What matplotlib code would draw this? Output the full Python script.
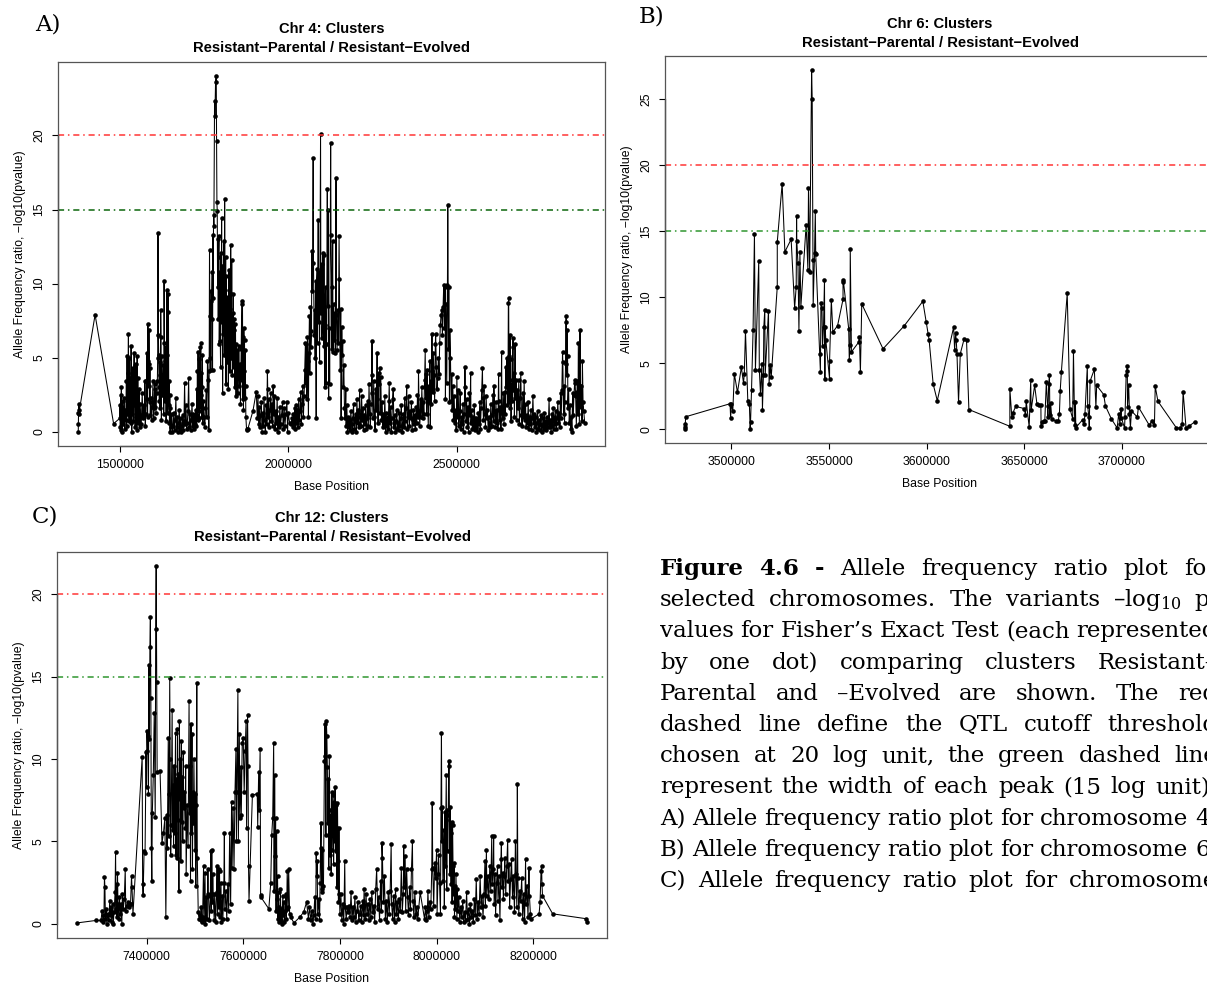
import matplotlib
matplotlib.use('Agg')
import matplotlib.pyplot as plt
import numpy as np

W, H = 1207, 984

# (position in kb, -log10 p)
chr4_points = [
    (1376, 0.0), (1376.3, 0.5), (1376.6, 1.3), (1376.9, 1.5), (1377.2, 1.9), (1377.5, 1.2), (1426, 7.9), (1481, 0.55),
    (1499, 0.9), (1500, 1.8), (1501, 0.3), (1502, 2.5), (1503, 0.1), (1504, 3.0), (1505, 0.6), (1506, 1.4), (1507, 0.0),
    (1508, 2.1), (1510, 0.5), (1511, 1.1), (1513, 2.3), (1514, 0.2), (1516, 1.5), (1517, 0.8), (1519, 3.4), (1520, 0.4),
    (1521, 5.1), (1522, 1.2), (1524, 4.0), (1525, 6.6), (1526, 2.0), (1527, 0.7), (1528, 5.0), (1530, 1.6), (1531, 3.6),
    (1532, 0.6), (1533, 5.8), (1534, 2.4), (1535, 0.0), (1536, 3.1), (1537, 1.2), (1538, 4.3), (1540, 0.7), (1541, 2.2),
    (1542, 5.3), (1543, 1.8), (1544, 4.5), (1545, 0.3), (1546, 3.3), (1547, 4.6), (1548, 1.0), (1549, 2.7), (1550, 0.1),
    (1551, 5.1), (1552, 2.0), (1553, 3.6), (1554, 0.6), (1555, 1.5), (1557, 2.9), (1558, 0.3), (1560, 1.9), (1562, 0.5),
    (1564, 1.1), (1566, 2.6), (1568, 0.9), (1570, 1.8), (1572, 1.1), (1574, 3.4), (1575, 0.4), (1577, 1.2), (1579, 3.5),
    (1580, 5.3), (1581, 2.2), (1582, 1.0), (1583, 7.3), (1584, 4.8), (1585, 3.1), (1586, 6.9), (1587, 4.6), (1588, 2.0),
    (1589, 4.3), (1590, 1.1), (1592, 2.3), (1594, 0.8), (1596, 1.7), (1598, 3.4), (1599, 2.0), (1600, 0.9), (1602, 1.6),
    (1603, 3.2), (1604, 1.7), (1605, 2.9), (1607, 1.3), (1609, 2.6), (1611, 3.4), (1612, 5.0), (1613, 13.4), (1614, 6.5),
    (1615, 5.2), (1616, 3.0), (1617, 2.1), (1618, 4.7), (1619, 1.6), (1620, 3.8), (1621, 8.2), (1622, 6.4), (1623, 0.8),
    (1624, 5.1), (1625, 2.5), (1627, 3.1), (1629, 4.5), (1630, 1.2), (1631, 10.2), (1632, 6.0), (1633, 2.1), (1635, 4.8),
    (1636, 5.7), (1637, 0.7), (1638, 3.4), (1639, 9.6), (1640, 2.2), (1641, 5.2), (1642, 1.3), (1643, 9.3), (1644, 8.1),
    (1645, 1.8), (1646, 3.4), (1647, 0.6), (1648, 2.5), (1649, 0.0), (1650, 1.6), (1652, 0.3), (1654, 1.2), (1656, 0.0),
    (1658, 0.4), (1660, 1.3), (1662, 0.1), (1664, 0.8), (1666, 2.3), (1668, 0.3), (1670, 1.0), (1672, 0.0), (1674, 0.6),
    (1676, 1.5), (1678, 0.2), (1680, 0.9), (1682, 0.0), (1684, 0.4), (1686, 1.1), (1688, 0.1), (1690, 0.7), (1692, 3.3),
    (1694, 0.5), (1696, 1.8), (1698, 0.2), (1700, 0.6), (1702, 1.4), (1704, 3.6), (1706, 0.3), (1708, 1.2), (1710, 0.1),
    (1712, 0.8), (1714, 1.9), (1716, 0.4), (1718, 1.2), (1720, 0.2), (1722, 1.0), (1724, 0.5),
    (1726, 1.5), (1727, 0.4), (1728, 2.9), (1729, 1.1), (1730, 4.1), (1731, 0.8), (1732, 5.4), (1733, 2.3), (1734, 1.4),
    (1735, 4.9), (1736, 0.9), (1737, 3.4), (1738, 5.7), (1739, 1.7), (1740, 6.0), (1741, 2.5), (1742, 4.0), (1743, 1.0),
    (1744, 3.0), (1745, 5.2), (1746, 0.6), (1748, 2.1), (1750, 1.0), (1752, 0.3), (1754, 1.6), (1756, 2.8), (1758, 1.0),
    (1760, 4.8), (1762, 3.5), (1764, 0.1), (1765, 4.1), (1766, 12.3), (1767, 7.8), (1768, 5.0), (1769, 8.8), (1770, 4.2),
    (1771, 9.5), (1772, 7.6), (1774, 10.8), (1775, 4.2), (1776, 13.3), (1777, 9.0), (1778, 14.6), (1779, 13.9),
    (1781, 22.3), (1782, 21.3), (1784, 23.6), (1786, 24.0), (1787, 19.6), (1788, 15.5), (1789, 14.9),
    (1790, 9.8), (1791, 13.0), (1792, 7.6), (1793, 11.8), (1794, 13.2), (1795, 5.9), (1796, 8.5), (1797, 10.8), (1798, 6.1),
    (1799, 4.4), (1800, 12.1), (1801, 8.0), (1802, 14.4), (1803, 7.4), (1804, 11.2), (1805, 2.6), (1806, 9.0), (1807, 6.6),
    (1808, 8.9), (1809, 12.9), (1810, 5.2), (1811, 15.7), (1812, 9.6), (1813, 7.0), (1814, 11.8), (1815, 3.2), (1816, 10.5),
    (1817, 6.5), (1818, 8.2), (1819, 4.7), (1820, 7.4), (1821, 9.1), (1822, 2.9), (1823, 6.0), (1824, 10.9), (1825, 5.5),
    (1826, 8.3), (1827, 4.1), (1828, 9.4), (1829, 12.6), (1830, 7.2), (1831, 5.0), (1832, 11.6), (1833, 6.4), (1834, 3.8),
    (1835, 8.0), (1836, 5.6), (1837, 9.3), (1838, 4.4), (1839, 6.9), (1840, 7.6), (1841, 3.0), (1842, 5.4), (1843, 7.3),
    (1844, 4.8), (1845, 2.4), (1846, 5.9), (1848, 3.6), (1849, 5.5), (1850, 2.6), (1852, 4.3), (1853, 5.8), (1855, 3.1),
    (1856, 4.6), (1858, 1.9), (1860, 5.6), (1862, 8.8), (1863, 3.5), (1864, 8.6), (1865, 2.2), (1866, 6.4), (1867, 1.5),
    (1868, 7.0), (1869, 4.1), (1870, 6.2), (1871, 2.3), (1872, 5.5), (1873, 3.1), (1874, 1.0), (1876, 0.2), (1878, 0.1),
    (1880, 0.2), (1895, 1.4), (1905, 2.7), (1908, 0.9), (1910, 2.4), (1912, 0.5), (1914, 1.7), (1916, 0.3), (1918, 1.1),
    (1920, 2.0), (1922, 0.0), (1924, 1.3), (1926, 0.4), (1928, 2.3), (1930, 0.8), (1932, 0.0), (1934, 1.8), (1936, 0.5),
    (1938, 4.1), (1939, 2.9), (1940, 1.0), (1942, 2.2), (1944, 0.3), (1946, 1.5), (1948, 2.6), (1950, 0.7), (1952, 1.9),
    (1954, 0.4), (1955, 3.1), (1957, 1.2), (1959, 2.4), (1961, 0.2), (1963, 1.4), (1965, 0.6), (1967, 2.3), (1969, 0.0),
    (1971, 1.0), (1973, 0.3), (1975, 1.7), (1977, 0.5), (1980, 1.1), (1983, 2.0), (1985, 0.2), (1988, 1.6), (1990, 0.4),
    (1993, 1.2), (1996, 2.0), (1998, 0.0), (2000, 1.3), (2004, 0.6), (2008, 0.5), (2011, 0.9), (2013, 0.3), (2015, 1.2),
    (2017, 0.5), (2019, 1.6), (2021, 0.2), (2023, 1.8), (2025, 0.6), (2027, 1.5), (2029, 0.3), (2031, 2.2), (2033, 0.8),
    (2035, 1.4), (2037, 2.7), (2039, 0.5), (2041, 1.9), (2043, 3.1), (2045, 1.0), (2047, 2.4),
    (2049, 4.2), (2051, 6.0), (2052, 3.3), (2054, 5.9), (2055, 2.2), (2057, 6.4), (2058, 4.8), (2060, 1.0), (2061, 5.3),
    (2063, 7.8), (2064, 4.0), (2066, 8.4), (2067, 5.7), (2069, 6.8), (2070, 12.2), (2072, 9.5), (2074, 18.5), (2075, 11.4),
    (2077, 6.5), (2078, 8.2), (2080, 5.0), (2081, 10.2), (2083, 0.9), (2084, 9.9), (2086, 11.0), (2087, 6.0), (2089, 14.3),
    (2090, 7.4), (2092, 10.8), (2093, 4.7), (2096, 20.1), (2097, 8.0), (2099, 11.3), (2100, 6.3), (2102, 8.1), (2103, 12.1),
    (2105, 5.8), (2106, 11.9), (2108, 3.0), (2109, 7.2), (2111, 9.8), (2112, 3.3), (2114, 5.9), (2116, 16.4), (2117, 8.5),
    (2119, 15.0), (2120, 2.3), (2122, 7.0), (2123, 3.2), (2126, 19.5), (2127, 13.3), (2129, 9.8), (2130, 5.6), (2132, 12.9),
    (2133, 5.4), (2135, 8.6), (2136, 6.2), (2138, 8.0), (2140, 5.3), (2142, 17.1), (2143, 7.9), (2145, 5.5), (2147, 8.2),
    (2149, 6.0), (2151, 13.2), (2152, 10.3), (2154, 4.2), (2156, 8.3), (2157, 0.9), (2159, 7.1), (2160, 5.2), (2162, 6.1),
    (2163, 3.0), (2165, 4.5), (2167, 1.6), (2169, 0.9),
    (2171, 2.9), (2172, 0.4), (2174, 1.8), (2176, 0.0), (2178, 1.0), (2180, 0.3), (2182, 0.8), (2184, 0.1), (2186, 1.4),
    (2188, 0.5), (2190, 0.0), (2192, 0.9), (2194, 1.9), (2196, 0.2), (2198, 0.7), (2200, 1.2), (2202, 0.0), (2204, 2.2),
    (2206, 0.6), (2208, 1.5), (2210, 0.3), (2212, 2.8), (2214, 1.0), (2216, 0.4), (2218, 2.4), (2220, 0.8), (2222, 1.6),
    (2224, 0.1), (2226, 1.1), (2228, 0.5), (2230, 1.8), (2232, 0.2), (2234, 0.9), (2236, 2.1), (2238, 0.4), (2240, 3.2),
    (2242, 1.2), (2244, 0.3), (2246, 1.9), (2248, 3.8), (2249, 6.1), (2250, 2.6), (2252, 0.9), (2254, 3.4), (2256, 1.0),
    (2258, 0.1), (2260, 2.9), (2262, 1.5), (2264, 5.3), (2265, 2.2), (2267, 0.6), (2269, 4.0), (2270, 3.2), (2272, 4.3),
    (2273, 1.3), (2275, 3.7), (2277, 0.8), (2279, 2.0), (2281, 0.3), (2283, 1.2), (2285, 0.5), (2287, 2.4), (2289, 0.0),
    (2291, 1.3), (2293, 0.4), (2295, 1.0), (2297, 0.2), (2299, 2.1), (2300, 3.3), (2302, 0.6), (2304, 1.7), (2306, 0.0),
    (2308, 0.9), (2310, 2.2), (2312, 2.9), (2314, 0.3), (2316, 1.1), (2318, 0.0), (2320, 0.7), (2322, 1.5), (2324, 0.2),
    (2326, 0.6), (2328, 0.1), (2330, 1.3), (2332, 0.4), (2334, 0.9), (2336, 1.8), (2338, 0.0), (2340, 0.5), (2342, 1.2),
    (2344, 0.3), (2346, 2.3), (2348, 0.7), (2350, 1.6), (2352, 3.1), (2354, 0.2), (2356, 1.0), (2358, 2.4), (2360, 0.4),
    (2362, 1.4), (2364, 0.9), (2366, 2.0), (2368, 0.1), (2370, 0.8), (2372, 1.5), (2374, 0.5), (2376, 1.1), (2378, 0.2),
    (2380, 1.7), (2382, 0.6), (2384, 2.5), (2386, 1.0), (2387, 4.1), (2389, 1.4), (2391, 0.4), (2393, 2.2), (2395, 1.0),
    (2397, 3.0), (2399, 0.9), (2401, 2.0), (2403, 1.2), (2405, 3.5),
    (2407, 5.5), (2408, 2.3), (2410, 3.9), (2411, 1.2), (2413, 4.2), (2414, 2.6), (2416, 0.4), (2418, 3.1), (2419, 2.0),
    (2421, 4.8), (2422, 0.3), (2424, 3.4), (2425, 1.9), (2427, 6.6), (2428, 4.1), (2430, 2.7), (2431, 5.3), (2433, 3.8),
    (2435, 2.1), (2437, 5.9), (2438, 6.6), (2440, 4.4), (2442, 2.9), (2444, 3.6), (2446, 5.0), (2448, 3.9), (2450, 6.0),
    (2452, 7.2), (2454, 7.9), (2456, 8.2), (2458, 6.5), (2460, 8.4), (2462, 9.9), (2464, 7.0), (2466, 9.8), (2467, 2.2),
    (2469, 8.6), (2471, 3.3), (2473, 9.9), (2474, 15.3), (2476, 5.6), (2477, 9.8), (2479, 2.0), (2480, 6.9), (2482, 5.0),
    (2484, 2.1), (2486, 3.9), (2487, 1.5), (2489, 3.1), (2491, 0.8),
    (2493, 2.4), (2495, 0.6), (2497, 1.5), (2499, 0.1), (2501, 3.7), (2503, 1.0), (2505, 2.8), (2507, 0.4), (2509, 1.4),
    (2511, 2.6), (2513, 0.2), (2515, 1.0), (2517, 0.5), (2519, 1.9), (2521, 0.0), (2523, 1.2), (2525, 4.4), (2526, 3.0),
    (2528, 0.7), (2530, 2.2), (2532, 0.3), (2534, 1.7), (2536, 0.0), (2538, 2.6), (2540, 1.1), (2542, 4.0), (2543, 0.6),
    (2545, 1.5), (2547, 0.2), (2549, 1.0), (2551, 0.4), (2553, 1.8), (2555, 0.1), (2557, 0.9), (2559, 0.3), (2561, 0.7),
    (2563, 0.0), (2565, 1.3), (2567, 0.5), (2569, 2.0), (2571, 0.2), (2573, 1.6), (2575, 2.8), (2577, 4.3), (2578, 2.3),
    (2580, 0.8), (2582, 3.1), (2584, 1.2), (2586, 0.3), (2588, 2.4), (2590, 0.9), (2592, 1.5), (2594, 0.1), (2596, 1.0),
    (2598, 0.3), (2600, 0.6), (2602, 1.9), (2604, 0.4), (2606, 1.1), (2608, 2.5), (2610, 0.7), (2611, 3.1), (2613, 1.4),
    (2615, 0.3), (2617, 2.0), (2619, 0.6), (2621, 1.5), (2623, 0.2), (2625, 3.9), (2626, 2.1), (2628, 0.8), (2630, 1.7),
    (2632, 0.2), (2634, 5.4), (2635, 1.3), (2637, 0.9), (2639, 2.6),
    (2641, 0.5), (2643, 2.7), (2645, 1.2), (2647, 4.4), (2648, 3.0), (2650, 5.0), (2651, 1.8), (2653, 3.3), (2654, 8.7),
    (2655, 9.0), (2656, 2.0), (2657, 5.1), (2658, 3.5), (2659, 6.5), (2660, 1.6), (2661, 4.9), (2662, 0.7), (2664, 3.2),
    (2665, 2.1), (2667, 5.7), (2668, 6.3), (2669, 2.8), (2671, 4.0), (2672, 1.0), (2674, 5.9), (2675, 2.3), (2677, 3.5),
    (2679, 0.8), (2681, 2.8), (2683, 1.6), (2685, 3.5), (2687, 0.5), (2689, 2.3), (2691, 4.0),
    (2693, 1.1), (2695, 0.4), (2697, 2.6), (2699, 1.0), (2701, 3.4), (2703, 0.8), (2705, 1.9), (2707, 0.3), (2709, 1.1),
    (2711, 0.6), (2713, 2.0), (2715, 0.2), (2717, 1.0), (2719, 0.5), (2721, 1.5), (2723, 0.1), (2725, 0.9), (2727, 2.4),
    (2729, 0.6), (2731, 1.2), (2733, 0.3), (2735, 1.0), (2737, 0.0), (2739, 0.6), (2741, 1.4), (2743, 0.2), (2745, 0.8),
    (2747, 0.1), (2749, 0.5), (2751, 1.1), (2753, 0.0), (2755, 0.4), (2757, 0.9), (2759, 0.2), (2761, 1.3), (2763, 0.4),
    (2765, 0.7), (2767, 0.1), (2769, 1.0), (2771, 0.3), (2773, 0.6), (2775, 2.2), (2777, 0.3), (2779, 0.8), (2781, 0.0),
    (2783, 1.2), (2785, 0.4), (2787, 1.6), (2789, 0.2), (2791, 1.0), (2793, 0.5), (2795, 1.4), (2797, 0.2), (2799, 0.9),
    (2801, 2.0), (2803, 0.6),
    (2805, 1.3), (2807, 0.3), (2809, 2.6), (2811, 0.9), (2813, 2.8), (2815, 5.4), (2816, 4.7), (2818, 1.2), (2819, 3.1),
    (2821, 0.6), (2822, 2.0), (2824, 4.6), (2825, 7.4), (2826, 7.8), (2827, 3.8), (2829, 6.9), (2830, 5.1), (2831, 1.6),
    (2833, 2.9), (2835, 0.6), (2837, 1.8), (2839, 0.2), (2841, 1.0), (2843, 0.0), (2845, 2.6), (2847, 1.1), (2849, 2.5),
    (2851, 3.3), (2852, 3.5), (2854, 2.4), (2856, 0.4), (2858, 2.7), (2859, 3.4), (2861, 1.2), (2862, 6.0), (2864, 2.5),
    (2865, 0.5), (2867, 6.9), (2868, 3.1), (2870, 1.7), (2871, 3.1), (2873, 0.7), (2874, 4.8), (2876, 2.0), (2878, 1.4),
    (2881, 0.6),
]

chr6_points = [
    (3476.4, 0.05), (3476.4, 0.2), (3476.4, 0.4), (3476.5, 0.95), (3499.3, 1.94), (3499.6, 0.86), (3500.0, 1.95),
    (3500.7, 1.36), (3501.5, 4.2), (3503.1, 2.8), (3505.1, 4.7), (3506.2, 3.5), (3506.6, 4.2), (3507.2, 7.45),
    (3508.4, 2.15), (3509.2, 1.9), (3509.6, 0.05), (3509.8, 0.55), (3510.3, 2.95), (3511.1, 7.5), (3511.8, 14.8),
    (3512.3, 4.5), (3514.0, 12.75), (3514.3, 4.5), (3514.9, 2.7), (3515.6, 4.97), (3515.9, 1.5), (3516.4, 4.1),
    (3516.6, 7.75), (3517.1, 9.07), (3517.3, 4.1), (3519.0, 9.0), (3519.3, 3.46), (3519.9, 4.85), (3520.4, 3.96),
    (3523.5, 10.8), (3523.5, 14.2), (3526.0, 18.6), (3527.4, 13.45), (3530.6, 14.4), (3532.4, 9.2), (3533.2, 10.8),
    (3533.4, 16.2), (3533.5, 14.3), (3534.1, 12.6), (3534.6, 7.45), (3535.1, 13.4), (3535.6, 9.3), (3538.3, 15.5),
    (3539.2, 12.1), (3539.5, 18.25), (3540.1, 11.95), (3541.1, 27.2), (3541.4, 25.0), (3541.8, 12.85), (3541.9, 9.4),
    (3542.6, 13.35), (3543.0, 16.55), (3543.2, 13.3), (3545.2, 5.68), (3545.6, 4.37), (3545.9, 9.6), (3546.4, 9.17),
    (3546.7, 6.3), (3547.2, 7.75), (3547.7, 11.3), (3547.9, 3.84), (3548.0, 7.75), (3548.4, 6.74), (3550.3, 3.8),
    (3550.3, 5.18), (3551.2, 9.8), (3552.0, 7.37), (3554.4, 7.85), (3557.2, 9.85), (3557.2, 11.2), (3557.3, 11.35),
    (3560.1, 7.63), (3560.4, 5.28), (3560.8, 6.4), (3560.9, 13.7), (3561.5, 5.86), (3565.2, 6.6), (3565.6, 7.0),
    (3566.1, 4.32), (3566.8, 9.5), (3577.7, 6.1), (3588.5, 7.83), (3598.1, 9.7), (3599.8, 8.13), (3600.8, 7.25),
    (3601.3, 6.8), (3603.4, 3.43), (3605.5, 2.17), (3613.9, 7.75), (3614.4, 5.98), (3614.9, 7.32), (3615.2, 6.8),
    (3615.6, 5.73), (3616.4, 2.07), (3617.3, 5.73), (3619.3, 6.87), (3620.5, 6.74), (3621.7, 1.5), (3642.7, 0.23),
    (3642.7, 3.08), (3643.7, 0.93), (3644.3, 1.26), (3645.7, 1.74), (3650.1, 1.57), (3650.7, 1.06), (3651.1, 2.12),
    (3652.6, 0.18), (3653.4, 3.76), (3653.6, 1.44), (3655.4, 3.33), (3656.6, 1.9), (3657.4, 1.87), (3658.6, 1.82),
    (3658.7, 0.23), (3659.2, 0.56), (3660.2, 0.63), (3660.6, 0.63), (3661.4, 3.6), (3662.0, 1.8), (3662.2, 0.93),
    (3662.6, 3.45), (3663.0, 4.1), (3663.2, 1.06), (3663.6, 2.0), (3664.2, 0.8), (3666.1, 0.63), (3667.5, 0.63),
    (3668.1, 1.19), (3668.5, 2.9), (3669.1, 4.34), (3672.1, 10.3), (3673.5, 1.57), (3674.9, 0.8), (3675.3, 5.93),
    (3675.7, 2.07), (3676.0, 0.3), (3676.3, 2.07), (3676.5, 0.13), (3680.0, 0.73), (3680.8, 0.43), (3681.2, 1.19),
    (3682.4, 4.77), (3682.6, 1.74), (3683.2, 0.93), (3683.4, 0.1), (3683.8, 3.64), (3686.0, 4.55), (3686.8, 1.69),
    (3687.2, 3.33), (3690.8, 2.63), (3691.7, 1.77), (3694.7, 0.8), (3697.7, 0.1), (3698.5, 1.19), (3699.1, 0.43),
    (3699.7, 1.57), (3699.8, 0.88), (3701.5, 0.1), (3701.7, 0.93), (3702.3, 4.1), (3702.7, 4.42), (3702.9, 4.77),
    (3703.0, 1.69), (3703.6, 3.33), (3704.0, 1.19), (3704.5, 0.13), (3705.0, 1.4), (3708.0, 0.93), (3708.6, 1.69),
    (3714.2, 0.3), (3715.4, 0.63), (3716.8, 0.3), (3717.2, 3.26), (3718.6, 2.12), (3728.1, 0.1), (3730.1, 0.1),
    (3731.0, 0.43), (3731.5, 2.83), (3733.0, 0.1), (3734.6, 0.25), (3737.4, 0.56),
]

chr12_points = [
    (7257, 0.05), (7296, 0.2),
    (7306, 0.2), (7308, 0.8), (7310, 0.1), (7312, 0.5), (7313, 2.86), (7314, 2.2), (7315, 0.3), (7317, 0.9), (7318, 0.0),
    (7320, 0.6), (7322, 0.2), (7324, 1.4), (7325, 0.5), (7327, 1.0), (7328, 0.1), (7330, 1.2), (7331, 0.0), (7333, 0.7),
    (7335, 1.9), (7336, 4.37), (7337, 0.9), (7338, 2.4), (7339, 0.4), (7340, 3.06), (7341, 1.2), (7343, 0.3), (7344, 1.6),
    (7346, 0.6), (7347, 1.2), (7349, 0.0), (7350, 1.8), (7352, 0.9), (7354, 1.5), (7356, 3.3), (7357, 0.8), (7359, 1.1),
    (7361, 1.3), (7363, 1.0), (7365, 1.2), (7367, 1.2), (7369, 2.9), (7370, 2.2), (7372, 0.6),
    (7391, 10.1), (7392, 2.4), (7393, 1.75), (7395, 4.4), (7397, 4.3), (7399, 10.4), (7400, 8.3), (7401, 11.7),
    (7402, 10.5), (7403, 11.4), (7404, 7.9), (7405, 15.7), (7406, 11.2), (7407, 16.8), (7408, 18.6), (7409, 13.7),
    (7410, 4.6), (7411, 2.6), (7412, 6.7), (7414, 9.0), (7416, 12.8), (7418, 6.5), (7419, 17.9), (7420, 21.7),
    (7421, 14.7), (7422, 9.2), (7428, 9.3), (7432, 4.9), (7435, 5.5), (7438, 6.4), (7440, 0.4), (7442, 6.6), (7443, 4.6),
    (7445, 11.3), (7446, 5.3), (7447, 7.9), (7448, 14.9), (7449, 10.0), (7450, 4.2), (7451, 6.0), (7453, 13.0),
    (7454, 5.7), (7455, 8.4), (7456, 4.7), (7457, 9.6), (7458, 5.5), (7459, 7.8), (7460, 11.6), (7461, 4.2), (7462, 8.8),
    (7463, 4.0), (7464, 11.8), (7465, 6.3), (7466, 9.1), (7467, 2.0), (7468, 12.3), (7469, 7.6), (7470, 10.0),
    (7471, 3.8), (7472, 11.1), (7473, 6.2), (7474, 8.9), (7475, 5.0), (7476, 10.4), (7477, 7.0), (7478, 8.0), (7480, 5.8),
    (7481, 9.6), (7482, 3.0), (7484, 7.2), (7486, 4.7), (7488, 13.5), (7489, 6.7), (7490, 9.6), (7491, 2.6), (7492, 12.1),
    (7493, 5.5), (7494, 11.5), (7495, 3.3), (7496, 8.0), (7497, 6.1), (7498, 10.0), (7499, 7.0), (7500, 4.5), (7501, 7.9),
    (7502, 2.3), (7503, 7.2), (7504, 14.6), (7505, 4.0), (7507, 0.7),
    (7509, 0.3), (7511, 0.5), (7512, 0.2), (7513, 1.0), (7514, 0.1), (7516, 0.4), (7518, 3.5), (7519, 0.2), (7521, 3.1),
    (7522, 0.0), (7524, 1.6), (7525, 0.3), (7527, 3.3), (7528, 1.8), (7530, 0.2), (7532, 1.7), (7533, 4.4), (7534, 0.8),
    (7535, 4.5), (7536, 1.3), (7537, 3.0), (7538, 1.8), (7540, 0.2), (7541, 1.8), (7543, 0.1), (7545, 1.9), (7546, 3.5),
    (7547, 0.6), (7549, 3.3), (7550, 1.0), (7551, 3.2), (7552, 0.4), (7554, 2.5), (7555, 0.1), (7557, 1.7), (7558, 0.3),
    (7560, 2.5), (7561, 5.5), (7562, 0.9),
    (7564, 2.0), (7566, 0.3), (7568, 2.4), (7570, 0.8), (7572, 5.5), (7574, 1.2), (7576, 7.4), (7577, 3.4), (7579, 7.0),
    (7581, 3.35), (7583, 8.0), (7585, 10.6), (7586, 5.0), (7587, 8.0), (7589, 14.2), (7590, 5.0), (7592, 11.5),
    (7593, 6.4), (7595, 9.5), (7596, 6.6), (7598, 11.0), (7600, 11.3), (7602, 8.0), (7604, 10.5), (7606, 12.3),
    (7607, 5.8), (7609, 12.7), (7610, 9.6), (7611, 3.5), (7612, 1.4), (7619, 7.8), (7629, 7.9), (7630, 5.9), (7632, 9.2),
    (7633, 6.9), (7635, 10.6), (7636, 1.75), (7637, 1.6), (7653, 0.9), (7657, 2.5), (7659, 5.4), (7661, 6.4),
    (7663, 11.0), (7664, 2.0), (7665, 9.0), (7666, 4.1), (7667, 6.4), (7668, 0.8), (7669, 5.6), (7670, 1.5), (7671, 2.9),
    (7672, 0.3), (7673, 1.9), (7674, 0.1), (7675, 1.0), (7676, 0.4), (7677, 2.1), (7678, 0.2), (7679, 0.9), (7680, 0.0),
    (7682, 1.7), (7683, 0.5), (7684, 1.3), (7685, 0.1), (7687, 0.8), (7688, 1.8), (7689, 0.3), (7690, 0.9), (7691, 3.2),
    (7693, 1.0), (7694, 3.3), (7696, 0.6), (7698, 0.4), (7705, 0.05),
    (7717, 0.4), (7725, 0.7), (7731, 1.3), (7735, 0.3), (7737, 1.0), (7740, 0.2), (7742, 0.8), (7744, 0.0), (7746, 0.5),
    (7748, 1.6), (7750, 0.3), (7751, 4.3), (7752, 2.9), (7753, 3.8), (7754, 0.6), (7756, 1.5), (7758, 0.2), (7759, 2.5),
    (7760, 4.6), (7761, 6.1), (7762, 1.9), (7763, 4.5), (7764, 2.1), (7766, 2.3), (7768, 9.9), (7769, 12.1),
    (7770, 10.2), (7771, 5.4), (7772, 12.3), (7773, 11.4), (7774, 9.5), (7775, 6.1), (7776, 8.8), (7777, 3.4),
    (7778, 10.2), (7779, 6.9), (7780, 4.2), (7781, 6.6), (7782, 3.0), (7783, 8.0), (7784, 4.5), (7785, 6.0), (7786, 7.8),
    (7787, 3.6), (7788, 7.4), (7789, 5.0), (7790, 8.3), (7791, 4.4), (7792, 7.2), (7793, 5.8), (7794, 2.2), (7795, 7.3),
    (7796, 3.8), (7797, 1.3), (7798, 5.8), (7799, 1.8), (7800, 0.6), (7802, 1.8), (7804, 0.2), (7806, 1.2), (7808, 0.0),
    (7810, 3.8), (7811, 1.0), (7813, 0.3), (7815, 1.0), (7817, 0.7), (7819, 1.1), (7821, 0.4),
    (7823, 1.9), (7825, 0.2), (7827, 1.0), (7829, 0.4), (7831, 1.6), (7833, 0.1), (7835, 0.8), (7837, 1.3), (7839, 0.2),
    (7841, 0.6), (7843, 1.1), (7845, 0.1), (7847, 1.4), (7849, 0.5), (7850, 2.1), (7852, 0.3), (7854, 1.8), (7856, 0.6),
    (7858, 1.2), (7860, 0.2), (7862, 1.5), (7864, 0.4), (7866, 1.9), (7868, 0.7), (7870, 1.1), (7872, 0.1), (7874, 2.1),
    (7876, 3.3), (7878, 0.9), (7880, 1.6), (7882, 0.2), (7884, 2.6), (7886, 0.8), (7887, 4.9), (7888, 4.0), (7890, 1.3),
    (7892, 2.9), (7894, 0.3), (7896, 1.4), (7898, 0.1), (7900, 1.9), (7902, 0.6), (7904, 2.0), (7906, 4.85), (7907, 1.2),
    (7909, 0.3), (7911, 1.7), (7913, 0.1), (7915, 2.1), (7917, 0.6), (7919, 1.3), (7921, 0.3), (7923, 1.5), (7925, 0.8),
    (7927, 3.4), (7929, 0.7), (7931, 1.8), (7932, 4.7), (7933, 2.2), (7935, 4.1), (7936, 0.8), (7938, 3.3), (7940, 1.6),
    (7942, 0.5), (7944, 2.2), (7946, 0.9), (7948, 3.3), (7950, 5.0), (7951, 1.4), (7953, 0.4), (7955, 1.9), (7957, 0.6),
    (7959, 1.0), (7961, 0.3), (7966, 1.9),
    (7975, 0.3), (7977, 1.0), (7979, 0.2), (7981, 0.8), (7982, 2.0), (7984, 0.4), (7986, 1.3), (7988, 0.9), (7990, 3.3),
    (7991, 7.3), (7992, 3.4), (7994, 1.1), (7996, 3.7), (7998, 2.8), (8000, 4.5), (8001, 0.6), (8003, 3.0), (8004, 4.2),
    (8006, 2.5), (8008, 0.6), (8009, 7.0), (8010, 11.6), (8011, 5.0), (8012, 7.1), (8013, 2.6), (8015, 5.7), (8016, 1.0),
    (8017, 6.8), (8018, 3.5), (8019, 6.3), (8020, 9.0), (8021, 2.1), (8022, 6.9), (8023, 4.4), (8024, 6.6), (8025, 9.6),
    (8026, 9.9), (8027, 3.0), (8028, 7.1), (8029, 5.5), (8030, 2.4), (8031, 6.2), (8032, 1.3), (8033, 6.0), (8034, 3.5),
    (8035, 1.8), (8036, 3.7), (8037, 0.4), (8038, 2.3), (8039, 0.9), (8040, 3.0), (8041, 1.6), (8042, 0.3), (8043, 2.1),
    (8044, 0.8), (8046, 1.6), (8048, 0.1), (8050, 1.0),
    (8052, 0.4), (8054, 1.4), (8056, 0.1), (8058, 0.7), (8060, 0.2), (8062, 1.9), (8064, 0.3), (8066, 0.9), (8068, 0.0),
    (8070, 1.2), (8072, 0.4), (8074, 0.8), (8076, 0.1), (8078, 1.5), (8080, 0.5), (8082, 2.7), (8084, 0.3), (8086, 1.3),
    (8088, 0.6), (8090, 2.9), (8092, 1.0), (8094, 1.7), (8096, 0.4), (8098, 1.8), (8100, 3.8), (8101, 1.1), (8103, 4.5),
    (8104, 1.7), (8106, 2.9), (8108, 1.5), (8110, 3.5), (8112, 2.0), (8114, 5.3), (8115, 2.4), (8117, 3.3), (8118, 5.3),
    (8119, 1.2), (8121, 3.0), (8122, 0.5), (8124, 2.5), (8126, 3.5), (8127, 1.4), (8129, 2.9), (8131, 0.2), (8133, 3.9),
    (8134, 4.9), (8135, 2.2), (8137, 3.1), (8138, 1.5), (8140, 2.9), (8141, 4.0), (8143, 1.8), (8145, 3.5), (8147, 5.1),
    (8148, 2.6), (8150, 3.6), (8151, 1.0), (8153, 2.7), (8155, 3.9), (8157, 1.6), (8159, 2.9), (8161, 0.7), (8163, 5.0),
    (8164, 3.0), (8166, 1.0), (8167, 8.5), (8168, 2.8), (8170, 0.6), (8172, 2.0), (8174, 1.4), (8176, 2.8), (8178, 0.3),
    (8180, 1.8), (8182, 0.1), (8184, 3.9), (8185, 1.2), (8187, 2.3), (8189, 0.4), (8191, 3.4), (8192, 1.7), (8194, 0.6),
    (8196, 0.3),
    (8212, 0.6), (8214, 1.3), (8216, 3.2), (8217, 3.5), (8218, 2.4), (8219, 1.7), (8240, 0.6), (8310, 0.3), (8310.3, 0.1),
]

chr4_xticks = [1500000, 2000000, 2500000]
chr6_xticks = [3500000, 3550000, 3600000, 3650000, 3700000]
chr12_xticks = [7400000, 7600000, 7800000, 8000000, 8200000]
chr4_yticks = [0, 5, 10, 15, 20]
chr6_yticks = [0, 5, 10, 15, 20, 25]
chr12_yticks = [0, 5, 10, 15, 20]

qtl_cutoff = 20
peak_width = 15

caption_lines = [
    "Figure 4.6 - Allele frequency ratio plot for",
    "selected chromosomes. The variants –log$_{10}$ p-",
    "values for Fisher’s Exact Test (each represented",
    "by one dot) comparing clusters Resistant–",
    "Parental and –Evolved are shown. The red",
    "dashed line define the QTL cutoff threshold",
    "chosen at 20 log unit, the green dashed line",
    "represent the width of each peak (15 log unit).",
    "A) Allele frequency ratio plot for chromosome 4.",
    "B) Allele frequency ratio plot for chromosome 6.",
    "C) Allele frequency ratio plot for chromosome",
]

plt.rcParams['font.family'] = ['Liberation Sans', 'DejaVu Sans']
plt.rcParams['mathtext.fontset'] = 'dejavuserif'

fig = plt.figure(figsize=(W / 100, H / 100), dpi=100)
dashdot = (0, (4, 2.5, 1, 2.5))


def fx(px):
    return px / W


def fy(py):
    return 1 - py / H


def panel(box, points, xticks, yticks, chrom, title_y, green):
    x0, y0, x1, y1 = box
    ax = fig.add_axes([fx(x0), fy(y1), (x1 - x0) / W, (y1 - y0) / H])
    pts = sorted(points, key=lambda p: p[0])
    x = np.array([p[0] for p in pts]) * 1000
    y = np.array([p[1] for p in pts])
    ax.plot(x, y, color='black', lw=0.75, marker='o', ms=3.3, mew=0)
    # R style 4% padding
    xr = x.max() - x.min()
    yr = y.max() - y.min()
    ax.set_xlim(x.min() - 0.04 * xr, x.max() + 0.04 * xr)
    ax.set_ylim(y.min() - 0.04 * yr, y.max() + 0.04 * yr)
    ax.axhline(qtl_cutoff, color='#ff3535', lw=1.1, ls=dashdot)
    ax.axhline(peak_width, color=green, lw=1.1, ls=dashdot)

    ax.set_xticks(xticks)
    ax.set_xticklabels([str(t) for t in xticks])
    ax.set_yticks(yticks)
    ax.set_yticklabels([str(t) for t in yticks], rotation=90, va='center')
    ax.tick_params(direction='out', length=4.3, width=0.8, labelsize=8.8, pad=5)
    for s in ax.spines.values():
        s.set_color('#555555')
        s.set_linewidth(0.9)
    ax.plot([xticks[0], xticks[-1]], [0, 0], transform=ax.get_xaxis_transform(),
            color='black', lw=0.9, clip_on=False)
    ax.plot([0, 0], [yticks[0], yticks[-1]], transform=ax.get_yaxis_transform(),
            color='black', lw=0.9, clip_on=False)
    ax.set_xlabel('Base Position', fontsize=8.8, labelpad=7)
    ax.set_ylabel('Allele Frequency ratio, \u2212log10(pvalue)', fontsize=8.8, labelpad=5)

    cx = (x0 + x1) / 2
    fig.text(fx(cx), fy(title_y), 'Chr %d: Clusters' % chrom, ha='center', va='center',
             fontsize=10.6, fontweight='bold')
    fig.text(fx(cx), fy(title_y + 19), 'Resistant\u2212Parental / Resistant\u2212Evolved',
             ha='center', va='center', fontsize=10.6, fontweight='bold')
    return ax


panel((58, 62, 605, 446), chr4_points, chr4_xticks, chr4_yticks, 4, 29, '#0b660b')
panel((665, 56, 1215, 443), chr6_points, chr6_xticks, chr6_yticks, 6, 24, '#2f962f')
panel((57, 552, 607, 938), chr12_points, chr12_xticks, chr12_yticks, 12, 518, '#2f962f')

serif = 'DejaVu Serif'
fig.text(fx(35), fy(31), 'A)', family=serif, fontsize=16.5, va='baseline')
fig.text(fx(639), fy(22), 'B)', family=serif, fontsize=16.5, va='baseline')
fig.text(fx(32), fy(523), 'C)', family=serif, fontsize=16.5, va='baseline')

# justified caption block, clipped by the right edge of the figure
fig.canvas.draw()
renderer = fig.canvas.get_renderer()
left, right = 660, 1217
base0, step = 575, 31.2
for i, line in enumerate(caption_lines):
    words = line.split(' ')
    texts = []
    for j, w in enumerate(words):
        weight = 'bold' if (i == 0 and j < 3) else 'normal'
        texts.append(fig.text(0, fy(base0 + i * step), w, family=serif, fontsize=16.5,
                              fontweight=weight, va='baseline'))
    widths = [t.get_window_extent(renderer).width for t in texts]
    gap = (right - left - sum(widths)) / (len(words) - 1)
    xpos = left
    for t, w in zip(texts, widths):
        t.set_x(fx(xpos))
        xpos += w + gap

fig.savefig('out.png', dpi=100)
